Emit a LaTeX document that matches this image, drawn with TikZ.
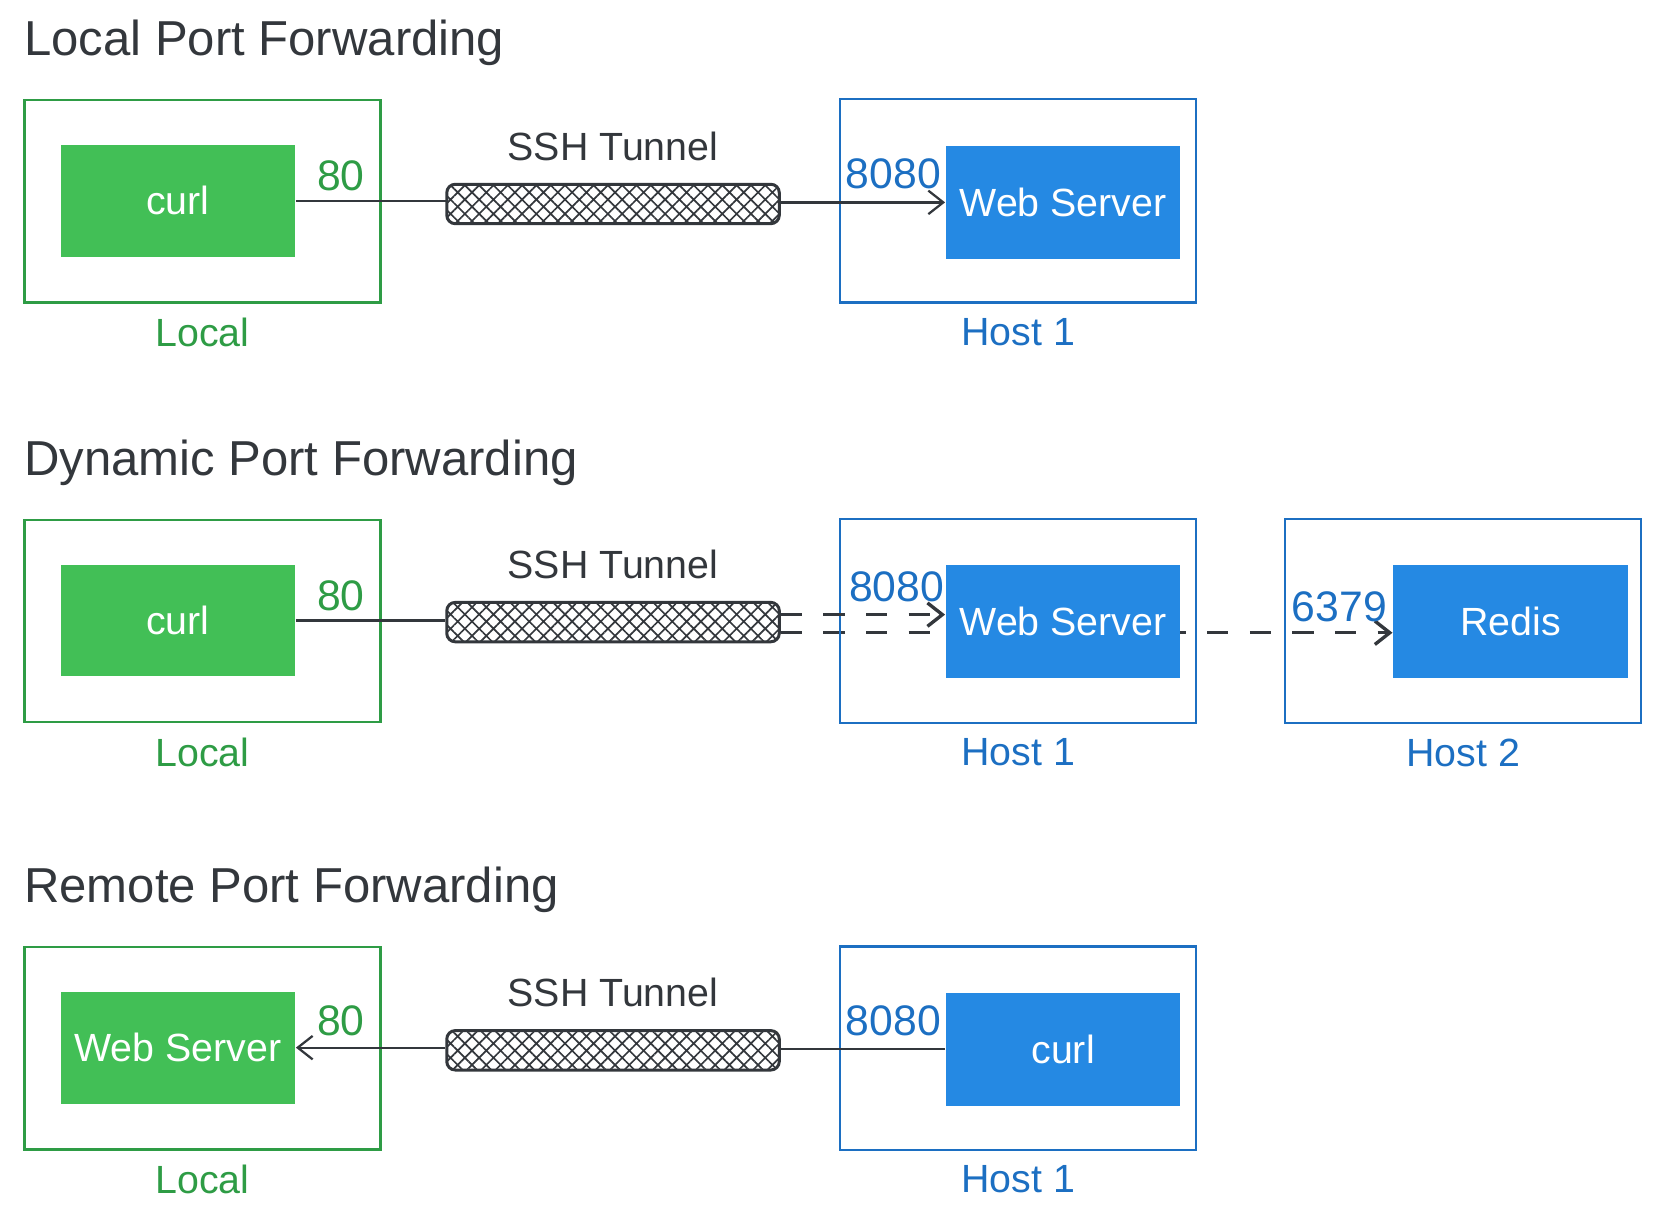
\documentclass[tikz,border=0pt]{standalone}
\usepackage{fontspec}
\setmainfont{Liberation Sans}
\usetikzlibrary{patterns.meta,arrows.meta,backgrounds}
\definecolor{lgreen}{HTML}{42BF56}
\definecolor{dgreen}{HTML}{2E9C45}
\definecolor{lblue}{HTML}{2589E3}
\definecolor{dblue}{HTML}{1C6FC2}
\definecolor{ink}{HTML}{33373C}
\begin{document}
\begin{tikzpicture}[x=0.01cm,y=-0.01cm,
        >={Straight Barb[length=0.14cm,width=0.22cm]},
        title/.style={anchor=base west,inner sep=0pt,text=ink,font=\fontsize{13.1}{15}\selectfont},
        txt/.style={font=\fontsize{10.5}{12}\selectfont},
        localbox/.style={draw=dgreen,line width=0.6pt,minimum width=3.34cm,minimum height=1.9cm},
        hostbox/.style={draw=dblue,line width=0.6pt,minimum width=3.34cm,minimum height=1.91cm},
        localapp/.style={txt,fill=lgreen,text=white,minimum width=2.2cm,minimum height=1.05cm,inner sep=0pt},
        hostapp/.style={txt,fill=lblue,text=white,minimum width=2.2cm,minimum height=1.06cm,inner sep=0pt},
        tunnel/.style={draw=ink,line width=0.8pt,rounded corners=0.08cm,minimum width=3.12cm,minimum height=0.37cm,
            pattern={Hatch[angle=45,distance=2.7pt,line width=0.45pt]},pattern color=ink,
            label={[txt,inner sep=0pt,label distance=0.2cm,text=ink]above:SSH Tunnel}},
        port/.style={font=\fontsize{11.4}{13}\selectfont,inner sep=0pt},
        link/.style={draw=ink,line width=0.6pt},
        hop/.style={draw=ink,line width=0.9pt,dash pattern=on 0.2cm off 0.2cm}]
    \useasboundingbox (0,0) rectangle (1564,1134);

    % local port forwarding
    \node (t1) [title] at (22,52) {Local Port Forwarding};
    \node (loc1) [localbox,label={[txt,text=dgreen,inner sep=0pt,label distance=0.13cm]below:Local}] at (190,189) {};
    \node (curl1) [localapp] at (167,188.5) {curl};
    \node (tun1) [tunnel] at (575.5,191.5) {};
    \node (hst1) [hostbox,label={[txt,text=dblue,inner sep=0pt,label distance=0.13cm]below:Host 1}] at (956,188.5) {};
    \node (web1) [hostapp] at (998,190) {Web Server};
    \node (p1a) [port,text=dgreen] at (297,179) [anchor=base west] {80};
    \node (p1b) [port,text=dblue] at (884,177) [anchor=base east] {8080};
    \draw [link] (curl1.east) -- (curl1.east -| tun1.west);
    \draw [link,->] (tun1.east |- web1.west) -- (web1.west);

    % dynamic port forwarding
    \node (t2) [title] at (22,446) {Dynamic Port Forwarding};
    \node (loc2) [localbox,label={[txt,text=dgreen,inner sep=0pt,label distance=0.13cm]below:Local}] at (190,583) {};
    \node (curl2) [localapp] at (167,582.5) {curl};
    \node (tun2) [tunnel] at (575.5,584) {};
    \node (hst2) [hostbox,label={[txt,text=dblue,inner sep=0pt,label distance=0.13cm]below:Host 1}] at (956,583) {};
    \node (web2) [hostapp] at (998,583) {Web Server};
    \node (hst3) [hostbox,label={[txt,text=dblue,inner sep=0pt,label distance=0.13cm]below:Host 2}] at (1373.5,583) {};
    \node (redis) [hostapp] at (1418,583) {Redis};
    \node (p2a) [port,text=dgreen] at (297,573) [anchor=base west] {80};
    \node (p2b) [port,text=dblue] at (887,565) [anchor=base east] {8080};
    \node (p2c) [port,text=dblue] at (1212,583) [anchor=base west] {6379};
    \coordinate (d1) at ([yshift=0.07cm]tun2.east);
    \coordinate (d2) at ([yshift=-0.1cm]tun2.east);
    \draw [link] (curl2.east) -- (curl2.east -| tun2.west);
    \draw [hop,->] (d1) -- (d1 -| web2.west);
    \begin{scope}[on background layer]
        \draw [hop,->] (d2) -- (d2 -| redis.west);
    \end{scope}

    % remote port forwarding
    \node (t3) [title] at (22,847) {Remote Port Forwarding};
    \node (loc3) [localbox,label={[txt,text=dgreen,inner sep=0pt,label distance=0.13cm]below:Local}] at (190,984) {};
    \node (web3) [localapp] at (167,983.5) {Web Server};
    \node (tun3) [tunnel] at (575.5,986) {};
    \node (hst4) [hostbox,label={[txt,text=dblue,inner sep=0pt,label distance=0.13cm]below:Host 1}] at (956,984) {};
    \node (curl3) [hostapp] at (998,985) {curl};
    \node (p3a) [port,text=dgreen] at (297,972) [anchor=base west] {80};
    \node (p3b) [port,text=dblue] at (884,972) [anchor=base east] {8080};
    \draw [link] (curl3.west) -- (curl3.west -| tun3.east);
    \draw [link,->] (tun3.west |- web3.east) -- (web3.east);
\end{tikzpicture}
\end{document}
